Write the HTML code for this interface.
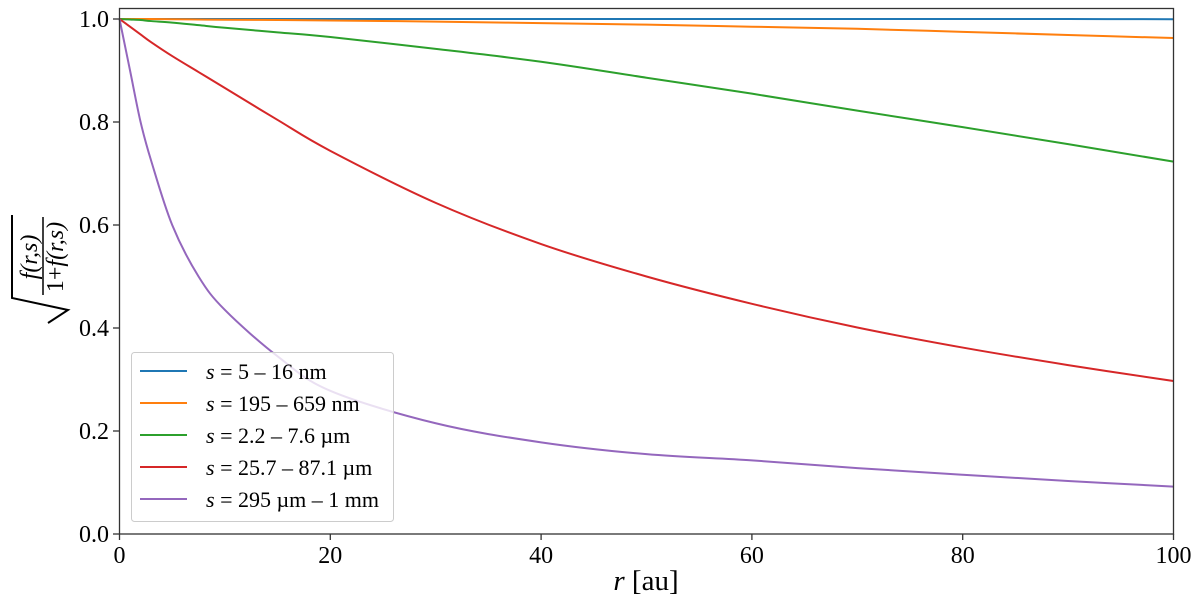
<!DOCTYPE html>
<html><head><meta charset="utf-8"><style>
html,body{margin:0;padding:0;background:#fff}
svg{display:block;font-family:"Liberation Serif","DejaVu Serif",serif}
</style></head><body>
<svg id="chart" width="1200" height="601" viewBox="0 0 1200 601">
<g id="series"></g>
<rect x="119.5" y="8.5" width="1054" height="525.5" fill="none" stroke="#333" stroke-width="1.3"/>
<g id="axes"></g>
<text x="646" y="590" text-anchor="middle" font-size="29"><tspan font-style="italic">r</tspan> [au]</text>
<g transform="translate(40,269) rotate(-90)">
<polyline points="54,-28 -29,-28 -41,28 -54,8" fill="none" stroke="#000" stroke-width="2"/>
<line x1="-26" y1="3" x2="52" y2="3" stroke="#000" stroke-width="1.5"/>
<text x="12" y="-3" text-anchor="middle" font-size="24" font-style="italic">f(r,s)</text>
<text x="12" y="23" text-anchor="middle" font-size="24"><tspan>1+</tspan><tspan font-style="italic">f(r,s)</tspan></text>
</g>
<g id="legend"></g>
</svg>
<script>
const rVals=[0,1,2,3,5,7.5,10,15,20,30,40,50,60,70,80,90,100];
const blueVals=[1,1,1,1,1,1,1,1,1,1,1,1,1,1,1,1,0.9995];
const orangeVals=[1,1,1,1,0.9995,0.999,0.9985,0.998,0.997,0.995,0.992,0.989,0.985,0.981,0.975,0.969,0.963];
const greenVals=[1,0.999,0.998,0.996,0.993,0.988,0.983,0.974,0.965,0.942,0.917,0.886,0.855,0.822,0.79,0.757,0.723];
const redVals=[1,0.985,0.97,0.955,0.928,0.897,0.866,0.804,0.744,0.643,0.563,0.5,0.447,0.401,0.362,0.328,0.297];
const purpleVals=[1,0.9,0.8,0.725,0.6,0.5,0.435,0.345,0.278,0.215,0.178,0.155,0.143,0.128,0.115,0.103,0.092];
const seriesNames=["s = 5 – 16 nm","s = 195 – 659 nm","s = 2.2 – 7.6 µm","s = 25.7 – 87.1 µm","s = 295 µm – 1 mm"];
const xTicks=[0,20,40,60,80,100];
const yTicks=[0,0.2,0.4,0.6,0.8,1.0];
const yTickLabels=["0.0","0.2","0.4","0.6","0.8","1.0"];
const colors=["#1f77b4","#ff7f0e","#2ca02c","#d62728","#9467bd"];
const allVals=[blueVals,orangeVals,greenVals,redVals,purpleVals];
const X=v=>119.5+v/100*1054;
const Y=v=>534-v*515;
const NS="http://www.w3.org/2000/svg";
function mk(tag,attrs,parent){const e=document.createElementNS(NS,tag);for(const k in attrs)e.setAttribute(k,attrs[k]);parent.appendChild(e);return e;}
const axes=document.getElementById('axes');
xTicks.forEach(t=>{
 const l=mk('line',{x1:X(t),x2:X(t),y1:534,y2:540,stroke:'#333','stroke-width':1.3},axes);
 
 
 const tx=mk('text',{x:X(t),y:563,'text-anchor':'middle','font-size':24},axes);
 tx.textContent=t;
 
 
});
yTicks.forEach((t,i)=>{
 const l=mk('line',{x1:113,x2:119.5,y1:Y(t),y2:Y(t),stroke:'#333','stroke-width':1.3},axes);
 
 
 const tx=mk('text',{x:109,y:Y(t)+8,'text-anchor':'end','font-size':24},axes);
 tx.textContent=yTickLabels[i];
 
 
});
function smooth(pts){
 let d=`M${pts[0][0]},${pts[0][1]}`;
 for(let i=0;i<pts.length-1;i++){
  const p0=pts[Math.max(i-1,0)],p1=pts[i],p2=pts[i+1],p3=pts[Math.min(i+2,pts.length-1)];
  const c1=[p1[0]+(p2[0]-p0[0])/6,p1[1]+(p2[1]-p0[1])/6];
  const c2=[p2[0]-(p3[0]-p1[0])/6,p2[1]-(p3[1]-p1[1])/6];
  d+=`C${c1[0]},${c1[1]} ${c2[0]},${c2[1]} ${p2[0]},${p2[1]}`;
 }
 return d;
}
const sg=document.getElementById('series');
allVals.forEach((vals,i)=>{
 const p=mk('path',{d:smooth(rVals.map((r,j)=>[X(r),Y(vals[j])])),fill:'none',stroke:colors[i],'stroke-width':2},sg);
 
 
});
const lg=document.getElementById('legend');
const box=mk('rect',{x:131.5,y:352.5,width:262,height:169,rx:3,fill:'#fff','fill-opacity':0.8,stroke:'#ccc'},lg);


seriesNames.forEach((n,i)=>{
 const y=371+i*32;
 const l=mk('line',{x1:140,x2:187,y1:y,y2:y,stroke:colors[i],'stroke-width':2},lg);
 
 
 const t=mk('text',{x:206,y:y+8,'font-size':22},lg);
 t.innerHTML='<tspan font-style="italic">s</tspan>'+n.slice(1);
 
 
});
</script>
</body></html>
